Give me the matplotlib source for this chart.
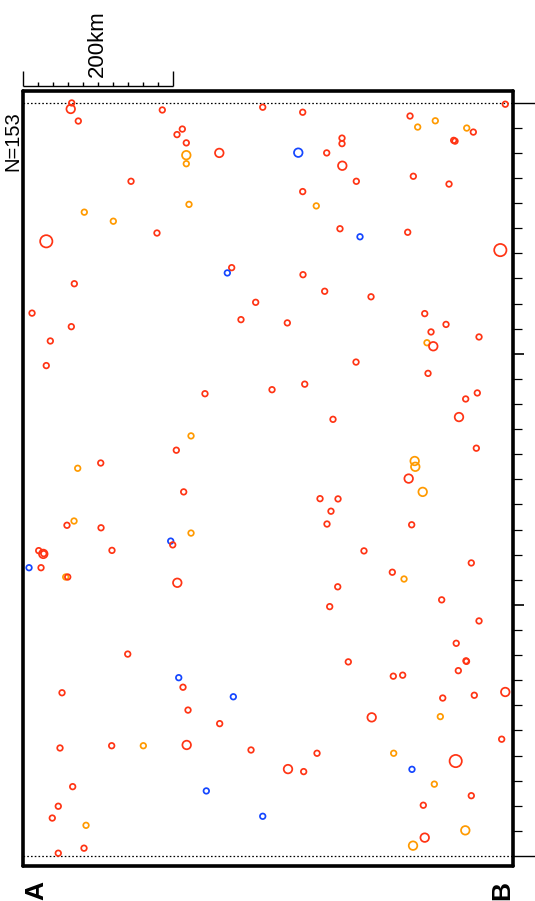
import matplotlib
matplotlib.use("Agg")
import matplotlib.pyplot as plt
import matplotlib.transforms as mtransforms
import numpy as np

plt.rcParams['font.family'] = ['Liberation Sans', 'DejaVu Sans']

# distance along profile (km), depth (km), size class (0 small,1 medium,2 large), colour class
dist_km = [65.6, 64.3, 74.4, 186.4, 320.3, 213.1, 206.0, 218.4, 218.4, 218.4,
           262.4, 144.7, 222.0, 82.4, 121.1, 179.3, 31.7, 278.9, 273.1, 69.1,
           310.9, 12.7, 291.3, 65.1, 37.1,
           373.6, 516.7, 550.4, 526.9, 592.3, 601.1, 574.9, 576.7, 426.0, 426.0,
           367.7, 405.6, 426.4, 445.1, 521.1, 568.7, 373.6, 391.7, 423.3, 450.0,
           513.6, 637.1, 374.0, 402.9, 464.7, 353.1, 536.3, 564.7, 544.7, 608.7,
           539.3, 547.7, 643.7,
           31.7, 243.3, 224.7, 205.1, 104.3, 73.6, 214.9, 68.7, 59.3, 104.7,
           224.7, 197.6, 200.3, 21.6, 27.7, 28.3, 119.3, 8.7, 24.7, 57.6,
           60.3, 206.4,
           444.7, 540.7, 332.7, 376.3, 606.4, 590.9, 582.0, 414.0, 605.1, 522.9,
           523.7, 514.9, 533.6, 396.7, 420.7, 411.3, 406.0, 518.9, 455.3, 598.4,
           493.1, 508.7, 420.3, 558.9, 409.6,
           140.3, 208.3, 214.0, 52.7, 281.1, 220.7, 262.9, 50.0, 118.9, 161.1,
           218.9, 304.7, 66.9, 245.1, 47.7, 39.7, 320.3, 84.7, 82.0, 47.7,
           608.7, 578.3, 591.3, 592.0, 581.1, 434.4, 494.4, 506.9, 560.3, 602.4,
           643.7, 465.6, 557.1, 638.9, 392.7, 494.9, 354.0, 374.9, 519.3, 577.6,
           549.1, 598.4, 534.4, 590.4, 536.3, 520.7]

depth_km = [0.01, 0.25, 0.73, 0.29, 0.18, 1.05, 1.27, 1.60, 2.09, 2.43,
            2.00, 3.13, 4.05, 4.36, 4.72, 5.19, 5.52, 6.57, 6.78, 7.21,
            7.95, 8.38, 8.64, 8.92, 9.49,
            0.38, 0.53, 0.72, 0.97, 1.01, 1.17, 1.50, 1.53, 1.41, 1.63,
            1.99, 2.00, 2.51, 3.13, 2.93, 3.24, 3.54, 4.11, 5.02, 5.34,
            5.16, 5.87, 6.85, 7.51, 7.73, 8.77, 8.40, 8.83, 9.13, 9.33,
            9.56, 9.70, 0.06,
            10.47, 11.59, 13.27, 13.84, 14.35, 14.56, 15.50, 16.66, 16.83, 16.93,
            17.14, 17.46, 17.61, 17.84, 17.97, 17.96, 17.83, 18.52, 18.52, 18.89,
            18.89, 19.12,
            10.33, 10.78, 11.43, 11.21, 11.56, 11.80, 12.52, 12.61, 13.76, 14.27,
            14.50, 14.97, 15.50, 15.77, 15.78, 16.27, 16.78, 16.81, 17.85, 18.33,
            18.70, 18.97, 19.28, 19.80, 20.07,
            21.96, 22.90, 23.28, 23.50, 23.66, 24.19, 24.73, 25.70, 25.61, 25.61,
            25.58, 25.78, 27.24, 27.41, 28.02, 28.49, 28.42, 28.78, 29.69, 29.89,
            20.64, 21.53, 22.23, 22.25, 22.62, 22.27, 22.84, 22.80, 23.71, 23.60,
            23.47, 24.48, 24.45, 25.35, 25.91, 25.91, 26.54, 26.64, 26.55, 26.22,
            27.14, 27.60, 27.98, 28.98, 29.27, 29.59]

size_cls = [0, 1, 0, 0, 0, 0, 0, 0, 1, 0,
            1, 0, 0, 0, 0, 0, 2, 0, 0, 0,
            0, 0, 0, 0, 0,
            0, 0, 0, 0, 0, 0, 0, 0, 0, 0,
            1, 0, 1, 0, 0, 0, 0, 0, 0, 0,
            0, 2, 0, 0, 0, 0, 0, 0, 0, 0,
            0, 1, 0,
            0, 0, 0, 0, 0, 0, 0, 0, 0, 0,
            0, 0, 0, 0, 1, 0, 0, 0, 0, 0,
            0, 1,
            0, 0, 0, 0, 0, 0, 1, 0, 0, 1,
            1, 1, 1, 0, 0, 0, 0, 0, 0, 0,
            0, 0, 0, 0, 0,
            0, 0, 0, 0, 0, 0, 0, 0, 0, 0,
            1, 0, 0, 0, 0, 0, 0, 0, 0, 0,
            0, 0, 0, 0, 0, 0, 0, 0, 0, 0,
            1, 1, 0, 0, 0, 0, 1, 0, 0, 2,
            0, 0, 0, 1, 1, 1]

color_cls = ['r', 'r', 'r', 'r', 'r', 'r', 'r', 'r', 'o', 'o',
             'r', 'r', 'o', 'o', 'o', 'r', 'r', 'r', 'b', 'r',
             'r', 'r', 'r', 'r', 'r',
             'r', 'r', 'o', 'o', 'o', 'r', 'r', 'r', 'r', 'r',
             'b', 'r', 'r', 'r', 'r', 'r', 'r', 'o', 'r', 'b',
             'r', 'r', 'r', 'r', 'r', 'r', 'r', 'r', 'r', 'r',
             'o', 'r', 'r',
             'r', 'r', 'o', 'r', 'r', 'o', 'r', 'o', 'r', 'r',
             'o', 'b', 'r', 'r', 'r', 'r', 'r', 'b', 'r', 'o',
             'r', 'r',
             'r', 'r', 'r', 'r', 'r', 'r', 'r', 'r', 'r', 'o',
             'o', 'r', 'o', 'r', 'r', 'r', 'r', 'r', 'r', 'r',
             'r', 'o', 'r', 'r', 'r',
             'r', 'b', 'r', 'r', 'b', 'r', 'r', 'r', 'r', 'o',
             'r', 'r', 'r', 'b', 'r', 'r', 'b', 'o', 'r', 'r',
             'r', 'r', 'r', 'r', 'r', 'r', 'r', 'r', 'r', 'r',
             'r', 'r', 'o', 'r', 'r', 'o', 'r', 'r', 'b', 'r',
             'o', 'r', 'r', 'o', 'r', 'o']

count_label = "N=153"
scale_km = 200
end_labels = ["A", "B"]

palette = {'r': '#ff3414', 'o': '#ff9a00', 'b': '#1446ff'}
marker_area = [16, 38, 78]

W, H = 535, 901
fig = plt.figure(figsize=(W / 100, H / 100), dpi=100)
ax = fig.add_axes([22.5 / W, (H - 866) / H, (513 - 22.5) / W, (866 - 91) / H])

ax.set_xlim(0, 654)
ax.set_ylim(30.40, -0.466)

for sp in ax.spines.values():
    sp.set_linewidth(2.6)
    sp.set_joinstyle('round')
    sp.set_capstyle('round')

# depth ticks on right side only
ax.yaxis.tick_right()
ax.set_yticks([10, 20])
ax.set_yticks([v for v in range(1, 30) if v not in (10, 20)], minor=True)
ax.tick_params(axis='y', which='major', length=7.8, width=1.2, direction='out', labelright=False)
ax.tick_params(axis='y', which='minor', length=6.3, width=0.9, direction='out')
ax.set_xticks([])

# dotted reference lines at depth 0 and 30
trans = mtransforms.blended_transform_factory(ax.transAxes, ax.transData)
for d in (0, 30):
    ax.axhline(d, color='black', lw=0.9, dashes=(1.3, 1.7), zorder=1)
    ax.plot([1.0, 1.0 + 22 / 490.5], [d, d], color='black', lw=1.0,
            transform=trans, clip_on=False)

# events
cols = [palette[c] for c in color_cls]
sizes = [marker_area[s] for s in size_cls]
ax.scatter(dist_km, depth_km, s=sizes, facecolors='none', edgecolors=cols,
           linewidths=1.25, zorder=3, clip_on=False)

# scale bar
yb = -0.665
ax.plot([0, scale_km], [yb, yb], color='black', lw=1.0, clip_on=False,
        solid_capstyle='butt')
for k in range(0, 11):
    xk = k * scale_km / 10
    top = -1.26 if k in (0, 10) else -0.83
    ax.plot([xk, xk], [yb, top], color='black', lw=1.0, clip_on=False,
            solid_capstyle='butt')
ax.text(scale_km / 2, -1.02, f"{scale_km}km", rotation=90, ha='center',
        va='bottom', fontsize=16)

fig.text(13 / W, (H - 141) / H, count_label, rotation=90, ha='center',
         va='center', fontsize=14.5)
fig.text(36 / W, (H - 890) / H, end_labels[0], rotation=90, ha='center',
         va='center', fontsize=19, fontweight='bold')
fig.text(502 / W, (H - 890) / H, end_labels[1], rotation=90, ha='center',
         va='center', fontsize=19, fontweight='bold')

fig.savefig("out.png", dpi=100)
